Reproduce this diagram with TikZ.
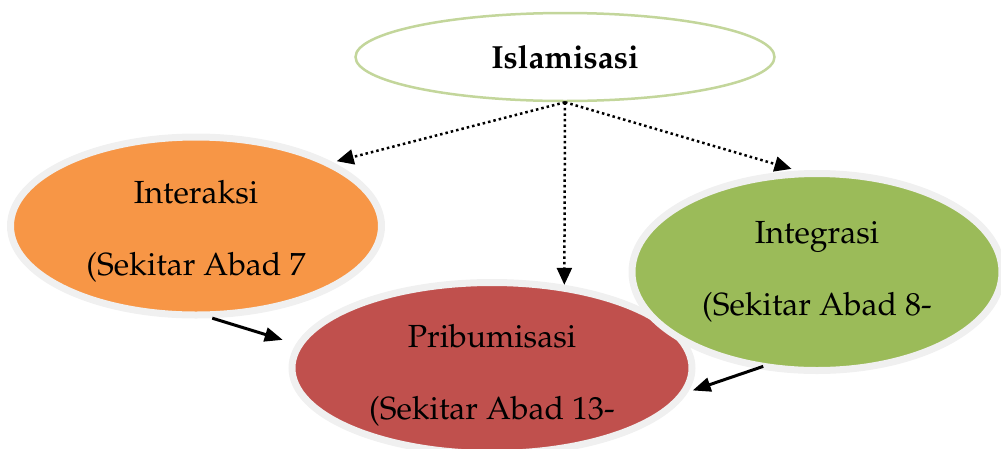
\documentclass[tikz,border=0pt]{standalone}
\usepackage[T1]{fontenc}
\usepackage{mathpazo}
\usetikzlibrary{shapes.geometric,arrows.meta}

\definecolor{glow}{HTML}{F0F0F0}
\definecolor{islline}{HTML}{C3D69B}
\definecolor{orng}{HTML}{F79646}
\definecolor{redd}{HTML}{C0504D}
\definecolor{grn}{HTML}{9BBB59}

\begin{document}
\begin{tikzpicture}[
  x=1pt, y=-1pt,
  blob/.style={ellipse, draw=glow, line width=7pt, inner sep=0pt, align=center,
               font=\fontsize{32}{72}\selectfont},
  top/.style={ellipse, draw=islline, line width=2.5pt, fill=white, inner sep=0pt,
              font=\bfseries\fontsize{32}{40}\selectfont},
  dotarr/.style={-{Triangle[length=17pt,width=15pt]}, line width=2.5pt, dash pattern=on 2.5pt off 3pt},
  arr/.style={-{Triangle[length=18pt,width=14pt]}, line width=3pt}
]
\useasboundingbox (0,0) rectangle (1001,448);

\node[top, minimum width=419pt, minimum height=88pt] (isl) at (565,57) {Islamisasi};
\node[blob, fill=orng, minimum width=371pt, minimum height=178pt] (intk) at (196,226) {\rule{0pt}{34pt}Interaksi\\(Sekitar Abad 7};
\node[blob, fill=redd, minimum width=400pt, minimum height=171pt] (prib) at (492,368) {\rule{0pt}{38pt}Pribumisasi\\(Sekitar Abad 13-};
\node[blob, fill=grn, minimum width=370pt, minimum height=197pt] (intg) at (817,272) {Integrasi\\(Sekitar Abad 8-};

% dotted links from the top
\draw[dotarr, shorten >=4pt] (isl.south) -- (intk.25);
\draw[dotarr] (isl.south) -- (prib.49);
\draw[dotarr, shorten >=6pt] (isl.south) -- (intg.101);

% solid links into Pribumisasi
\draw[arr, shorten >=14pt] (intk.-80) -- (prib.173);
\draw[arr, shorten <=-7pt, shorten >=5pt] (intg.-122) -- (prib.-7);
\end{tikzpicture}
\end{document}
